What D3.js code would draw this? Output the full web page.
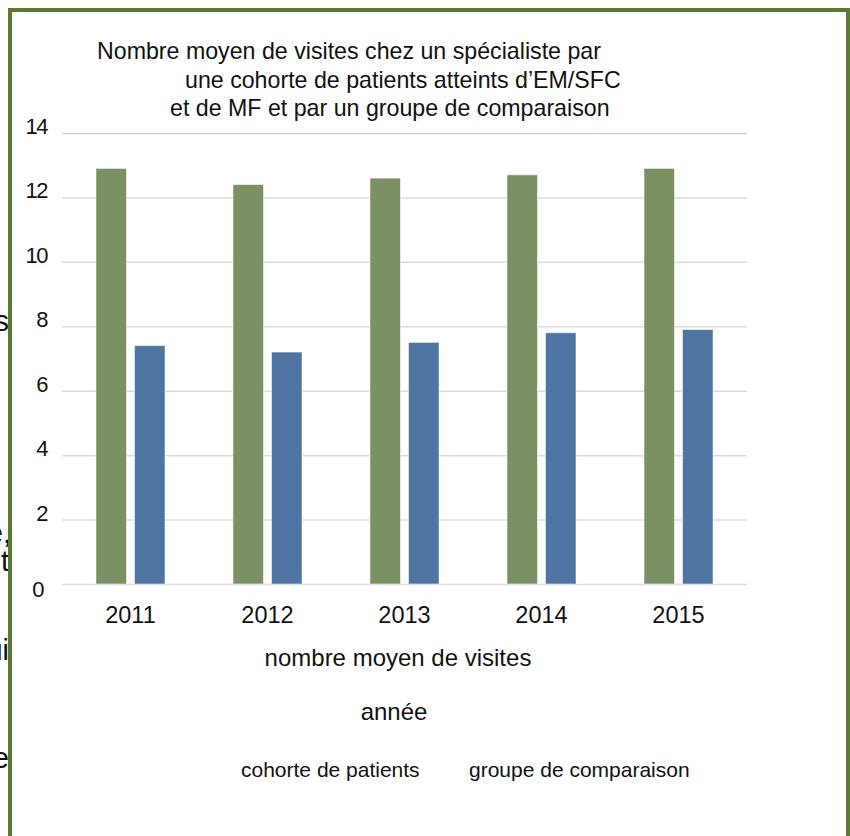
<!DOCTYPE html>
<html>
<head>
<meta charset="utf-8">
<script src="https://cdn.jsdelivr.net/npm/d3@7"></script>
<style>
  html, body { margin: 0; padding: 0; background: #fff; }
  svg { display: block; font-family: "Liberation Sans", Arial, Helvetica, sans-serif; }
</style>
</head>
<body>
<svg id="chart" width="850" height="836"></svg>
<script>
// ---- chart data ----
const years = ["2011", "2012", "2013", "2014", "2015"];
const seriesNames = ["cohorte de patients", "groupe de comparaison"];
const cohortValues = [12.9, 12.4, 12.6, 12.7, 12.9];
const comparisonValues = [7.4, 7.2, 7.5, 7.8, 7.9];
const yTickValues = [0, 2, 4, 6, 8, 10, 12, 14];
const titleLines = [
  "Nombre moyen de visites chez un spécialiste par",
  "une cohorte de patients atteints d’EM/SFC",
  "et de MF et par un groupe de comparaison"
];
const valueAxisTitle = "nombre moyen de visites";
const categoryAxisTitle = "année";
const seriesColors = ["#7b9163", "#4e74a1"];

// surrounding page text that runs under the frame edge
const pageWords = ["visites", "vie,", "et", "lui", "que"];

// ---- layout ----
const svg = d3.select("#chart");
const plot = { left: 62, right: 747, top: 133, bottom: 584 };

const x = d3.scaleBand()
  .domain(years)
  .range([plot.left, plot.right])
  .paddingInner(0.496)
  .paddingOuter(0.248);

const xSeries = d3.scaleBand()
  .domain(seriesNames)
  .range([0, x.bandwidth()])
  .paddingInner(0.208);

const y = d3.scaleLinear()
  .domain([0, 14])
  .range([plot.bottom, plot.top]);

const color = d3.scaleOrdinal().domain(seriesNames).range(seriesColors);

// page text clipped by the frame
const pageWordY = [331, 543, 571, 660, 768];
const pageWordX = [9, 11, 9, 9, 9];
svg.append("g")
  .selectAll("text")
  .data(pageWords)
  .join("text")
  .attr("x", (d, i) => pageWordX[i])
  .attr("y", (d, i) => pageWordY[i])
  .attr("text-anchor", "end")
  .attr("font-size", 29)
  .attr("fill", "#111")
  .text(d => d);

// framed white panel
svg.append("rect")
  .attr("x", 10).attr("y", 10)
  .attr("width", 838).attr("height", 900)
  .attr("fill", "#fff")
  .attr("stroke", "#5b7b35")
  .attr("stroke-width", 4);

// title
svg.append("g")
  .selectAll("text")
  .data(titleLines)
  .join("text")
  .attr("x", (d, i) => [97, 185, 170][i])
  .attr("y", (d, i) => 59 + i * 28.5)
  .attr("font-size", 23.2)
  .attr("fill", "#111")
  .text(d => d);

// horizontal gridlines and value labels
const yAxis = d3.axisLeft(y)
  .tickValues(yTickValues)
  .tickSize(-(plot.right - plot.left))
  .tickFormat(d3.format("d"))
  .tickPadding(15);

const gy = svg.append("g")
  .attr("transform", `translate(${plot.left},0)`)
  .call(yAxis);
gy.select(".domain").remove();
gy.selectAll(".tick line")
  .attr("stroke", d => d === 14 ? "#d2d2d2" : "#dcdcdc")
  .attr("stroke-width", 1.5);
gy.selectAll(".tick text")
  .attr("font-size", 22)
  .attr("fill", "#111")
  .attr("font-family", "Liberation Sans, Arial, sans-serif")
  .attr("dy", d => d === 0 ? "0.55em" : "0.02em")
  .attr("dx", d => d === 0 ? -4 : 0)
  .style("letter-spacing", "-1.5px");

// grouped bars
const rows = years.map((yr, i) => ({ year: yr, values: [cohortValues[i], comparisonValues[i]] }));

svg.append("g")
  .selectAll("g")
  .data(rows)
  .join("g")
  .attr("transform", d => `translate(${x(d.year)},0)`)
  .selectAll("rect")
  .data(d => seriesNames.map((s, k) => ({ series: s, value: d.values[k] })))
  .join("rect")
  .attr("x", d => xSeries(d.series))
  .attr("width", xSeries.bandwidth())
  .attr("y", d => y(d.value))
  .attr("height", d => y(0) - y(d.value))
  .attr("fill", d => color(d.series))
  .attr("stroke", "#ffffff")
  .attr("stroke-opacity", 0.55)
  .attr("stroke-width", 1);

// category axis labels
const xAxis = d3.axisBottom(x).tickSize(0).tickPadding(0);
const gx = svg.append("g")
  .attr("transform", `translate(0,${plot.bottom})`)
  .call(xAxis);
gx.select(".domain").remove();
gx.selectAll(".tick text")
  .attr("font-size", 23.5)
  .attr("fill", "#111")
  .attr("font-family", "Liberation Sans, Arial, sans-serif")
  .attr("dy", 39);

// axis titles
svg.append("text")
  .attr("x", 398).attr("y", 666)
  .attr("text-anchor", "middle")
  .attr("font-size", 24)
  .attr("fill", "#111")
  .text(valueAxisTitle);

svg.append("text")
  .attr("x", 394).attr("y", 720)
  .attr("text-anchor", "middle")
  .attr("font-size", 24)
  .attr("fill", "#111")
  .text(categoryAxisTitle);

// legend (text entries)
const legendX = [241, 469];
svg.append("g")
  .selectAll("text")
  .data(seriesNames)
  .join("text")
  .attr("x", (d, i) => legendX[i])
  .attr("y", 777)
  .attr("font-size", 21)
  .attr("fill", "#111")
  .text(d => d);
</script>
</body>
</html>
